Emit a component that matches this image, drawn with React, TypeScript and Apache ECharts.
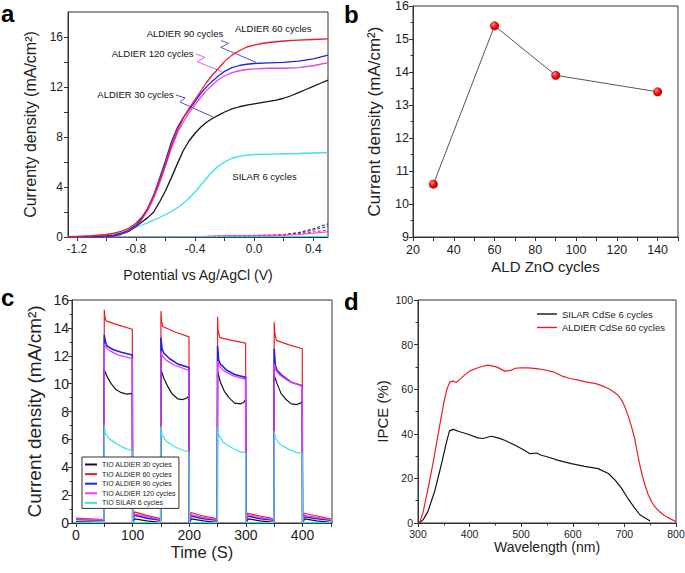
import React, { useEffect, useRef } from "react";
import * as echarts from "echarts";

const FONT = '"Liberation Sans", Arial, Helvetica, sans-serif';

// ---------- Panel a : J-V curves ----------
const aXTicks = [-1.2, -0.8, -0.4, 0, 0.4];
const aXMinor = [-1.0, -0.6, -0.2, 0.2];
const aYTicks = [0, 4, 8, 12, 16];
const aYMinor = [2, 6, 10, 14];

const aRed60 = [[-1.26,0.02],[-1.2,0.05],[-1.1,0.1],[-1.0,0.2],[-0.95,0.3],[-0.9,0.45],[-0.85,0.7],[-0.8,1.1],[-0.76,1.6],[-0.72,2.3],[-0.68,3.3],[-0.64,4.5],[-0.6,5.8],[-0.56,7.3],[-0.52,8.5],[-0.48,9.5],[-0.44,10.3],[-0.4,11.0],[-0.36,11.7],[-0.32,12.4],[-0.28,13.0],[-0.24,13.5],[-0.2,14.05],[-0.15,14.55],[-0.1,14.9],[-0.05,15.2],[0,15.35],[0.05,15.48],[0.1,15.56],[0.2,15.68],[0.3,15.75],[0.4,15.8],[0.5,15.85]];
const aBlue90 = [[-1.26,0],[-1.2,0.01],[-1.1,0.03],[-1.0,0.08],[-0.95,0.15],[-0.9,0.3],[-0.85,0.55],[-0.8,0.95],[-0.76,1.5],[-0.72,2.3],[-0.68,3.35],[-0.64,4.7],[-0.6,6.1],[-0.56,7.6],[-0.52,8.75],[-0.48,9.55],[-0.44,10.2],[-0.4,10.85],[-0.36,11.5],[-0.32,12.05],[-0.28,12.5],[-0.24,12.9],[-0.2,13.25],[-0.15,13.55],[-0.1,13.72],[-0.05,13.82],[0,13.88],[0.1,13.93],[0.2,13.97],[0.3,14.07],[0.4,14.25],[0.5,14.55]];
const aMag120 = [[-1.26,0],[-1.2,0.01],[-1.1,0.03],[-1.0,0.07],[-0.95,0.13],[-0.9,0.28],[-0.85,0.5],[-0.8,0.9],[-0.76,1.4],[-0.72,2.1],[-0.68,3.1],[-0.64,4.3],[-0.6,5.7],[-0.56,7.1],[-0.52,8.3],[-0.48,9.2],[-0.44,9.95],[-0.4,10.6],[-0.36,11.2],[-0.32,11.75],[-0.28,12.2],[-0.24,12.6],[-0.2,12.9],[-0.15,13.15],[-0.1,13.3],[-0.05,13.4],[0,13.45],[0.1,13.5],[0.2,13.5],[0.3,13.55],[0.4,13.7],[0.5,13.95]];
const aBlack30 = [[-1.26,0],[-1.2,0.01],[-1.1,0.02],[-1.0,0.05],[-0.95,0.1],[-0.9,0.22],[-0.85,0.45],[-0.8,0.85],[-0.76,1.2],[-0.72,1.55],[-0.68,2.0],[-0.64,2.8],[-0.6,3.7],[-0.56,4.75],[-0.52,5.85],[-0.48,6.9],[-0.44,7.7],[-0.4,8.3],[-0.36,8.8],[-0.32,9.2],[-0.28,9.5],[-0.24,9.75],[-0.2,10.0],[-0.15,10.25],[-0.1,10.42],[-0.05,10.55],[0,10.65],[0.05,10.75],[0.1,10.85],[0.15,10.95],[0.2,11.1],[0.25,11.3],[0.3,11.55],[0.35,11.8],[0.4,12.05],[0.45,12.3],[0.5,12.55]];
const aCyanSilar = [[-1.26,0],[-1.2,0.01],[-1.1,0.03],[-1.0,0.08],[-0.95,0.15],[-0.9,0.3],[-0.85,0.52],[-0.8,0.78],[-0.75,1.0],[-0.7,1.25],[-0.65,1.5],[-0.6,1.8],[-0.55,2.1],[-0.5,2.5],[-0.45,3.0],[-0.4,3.6],[-0.35,4.3],[-0.3,5.0],[-0.25,5.6],[-0.2,6.0],[-0.15,6.3],[-0.1,6.45],[-0.05,6.55],[0,6.6],[0.1,6.63],[0.2,6.66],[0.3,6.68],[0.4,6.72],[0.5,6.75]];
// dark currents
const aDarkBlack = [[-1.26,0],[-0.4,0],[-0.1,0.03],[0.1,0.1],[0.2,0.2],[0.3,0.35],[0.4,0.65],[0.5,1.05]];
const aDarkBlue = [[-1.26,0],[-0.3,0],[0,0.03],[0.2,0.15],[0.3,0.3],[0.4,0.55],[0.5,0.85]];
const aDarkRed = [[-1.26,0],[-0.4,0.02],[-0.2,0.1],[0,0.13],[0.2,0.18],[0.3,0.25],[0.4,0.4],[0.5,0.55]];
const aDarkMag = [[-1.26,0],[-0.4,0.02],[-0.2,0.1],[0,0.12],[0.2,0.15],[0.3,0.2],[0.4,0.3],[0.5,0.42]];
const aDarkCyan = [[-1.26,0],[0,0.02],[0.5,0.05]];

// ---------- Panel b ----------
const bCycles = [30, 60, 90, 140];
const bCurrent = [10.6, 15.4, 13.9, 13.4];
const bXTicks = [20, 40, 60, 80, 100, 120, 140];
const bXMinor = [30, 50, 70, 90, 110, 130, 150];

// ---------- Panel c : chopped light ----------
const cXTicks = [0, 100, 200, 300, 400];
const cXMinor = [50, 150, 250, 350, 450];
const cNames = ["TIO ALDIER 30 cycles", "TIO ALDIER 60 cycles", "TIO ALDIER 90 cycles", "TIO ALDIER 120 cycles", "TIO SILAR 6 cycles"];
const cBlack30 = [[0,0.1],[49.5,0.05],[50,11.0],[55,10.5],[62,10.0],[70,9.6],[80,9.35],[90,9.25],[99.5,9.3],[100,0.0],[104,0.3],[125,0.15],[149.5,0.05],[150,11.0],[155,10.4],[162,9.8],[170,9.25],[180,8.9],[188,8.85],[195,8.95],[199.5,9.1],[200,0.0],[204,0.3],[225,0.15],[249.5,0.05],[250,10.9],[255,10.1],[262,9.45],[270,9.0],[280,8.6],[290,8.55],[296,8.65],[299.5,8.85],[300,0],[304,0.3],[325,0.15],[349.5,0.05],[350,10.6],[355,10.0],[362,9.3],[370,8.9],[380,8.55],[390,8.5],[396,8.6],[399.5,8.7],[400,0],[404,0.3],[425,0.15],[450,0.05]];
const cRed60 = [[0,0.35],[25,0.3],[49.5,0.25],[50,15.3],[51,14.8],[53,14.5],[75,14.2],[99.5,13.9],[100,0.1],[103,0.8],[125,0.55],[149.5,0.3],[150,15.2],[151,14.5],[153,14.1],[175,13.7],[199.5,13.35],[200,0.1],[203,0.75],[225,0.5],[249.5,0.3],[250,14.8],[251,13.8],[254,13.3],[275,13.1],[299.5,12.9],[300,0.1],[303,0.7],[325,0.5],[349.5,0.3],[350,14.4],[351,13.6],[354,13.1],[375,12.8],[399.5,12.5],[400,0.1],[403,0.7],[425,0.5],[450,0.3]];
const cBlue90 = [[0,0.25],[25,0.22],[49.5,0.2],[50,13.5],[52,13.0],[55,12.7],[65,12.45],[80,12.25],[99.5,12.05],[100,0.05],[103,0.55],[125,0.35],[149.5,0.2],[150,13.3],[152,12.5],[155,12.2],[165,11.8],[180,11.4],[199.5,11.15],[200,0.05],[203,0.5],[225,0.3],[249.5,0.2],[250,12.7],[252,11.7],[255,11.4],[265,11.0],[280,10.65],[299.5,10.45],[300,0.05],[303,0.5],[325,0.3],[349.5,0.2],[350,12.5],[352,11.3],[355,10.95],[365,10.55],[380,10.1],[399.5,9.85],[400,0.05],[403,0.45],[425,0.3],[450,0.2]];
const cMag120 = [[0,0.3],[25,0.25],[49.5,0.22],[50,12.85],[53,12.6],[60,12.35],[75,12.05],[99.5,11.8],[100,0.05],[103,0.65],[125,0.45],[149.5,0.25],[150,12.3],[153,11.95],[160,11.65],[175,11.3],[199.5,10.95],[200,0.05],[203,0.6],[225,0.4],[249.5,0.25],[250,11.6],[253,11.25],[260,10.95],[275,10.6],[299.5,10.3],[300,0.05],[303,0.6],[325,0.4],[349.5,0.25],[350,11.4],[353,10.95],[360,10.6],[375,10.2],[399.5,9.8],[400,0.05],[403,0.55],[425,0.4],[450,0.25]];
const cCyan6 = [[0,0.05],[49.5,0.03],[50,7.0],[52,6.4],[60,6.0],[75,5.6],[90,5.3],[99.5,5.2],[100,0.02],[149.5,0.03],[150,6.95],[152,6.3],[160,5.85],[175,5.45],[190,5.2],[199.5,5.1],[200,0.02],[249.5,0.03],[250,6.9],[252,6.3],[260,5.8],[275,5.4],[290,5.1],[299.5,5.05],[300,0.02],[349.5,0.03],[350,6.6],[352,6.1],[360,5.65],[375,5.3],[390,5.05],[399.5,5.0],[400,0.02],[450,0.03]];

// ---------- Panel d : IPCE ----------
const dNames = ["SILAR CdSe 6 cycles", "ALDIER CdSe 60 cycles"];
const dSilar = [[303,0],[310,1.5],[319,5],[332,14],[345,26],[355,36],[361,41.3],[368,42],[381,40.9],[397,39.8],[416,38.2],[426,37.9],[442,38.9],[455,38.2],[468,37.1],[488,34.9],[500,33.4],[517,31.1],[530,31.4],[539,30.4],[552,29.6],[572,28.1],[597,26.6],[623,25.4],[649,24.4],[669,22.2],[682,19.2],[695,15.4],[707,10.9],[720,6.7],[730,3.7],[740,2.2],[750,0.9]];
const dAldier = [[303,0],[310,5],[320,16],[330,28],[340,41],[350,54],[356,60],[362,63.3],[368,63.6],[374,63.0],[380,64.2],[390,66.3],[400,68.1],[412,69.3],[425,70.3],[436,70.8],[452,70.0],[468,68.1],[480,68.4],[488,69.4],[500,69.6],[514,69.6],[530,69.2],[546,68.6],[562,67.8],[578,66.0],[595,64.8],[611,64.1],[627,63.2],[643,62.6],[656,61.6],[669,60.3],[680,58.6],[688,57.3],[695,55.0],[701,52],[708,47.6],[714,43],[720,37.9],[725,31.5],[730,25.9],[735,21],[740,16.9],[746,12.8],[753,9.4],[760,7],[769,4.9],[777,3.5],[785,2.4],[792,1.5],[800,0.7]];

const BLACK = "#151515";
const RED = "#ec1c24";
const BLUE = "#2424e0";
const MAG = "#ee3cee";
const CYAN = "#3ae0e6";

function axisBase(fontSize: number, margin: number) {
  return {
    type: "value",
    splitLine: { show: false },
    axisLine: { show: true, onZero: false, lineStyle: { color: "#333", width: 1 } },
    axisTick: { show: true, length: 4, lineStyle: { color: "#333", width: 1 } },
    axisLabel: { fontSize, margin, color: "#222", fontFamily: FONT },
    nameLocation: "middle",
  };
}

function nameStyle(fontSize: number) {
  return { fontSize, color: "#222", fontFamily: FONT };
}

function lineSeries(name: string, data: number[][], color: string, idx: number, width = 1.3, dashed = false) {
  return {
    type: "line",
    name,
    data,
    xAxisIndex: idx,
    yAxisIndex: idx,
    showSymbol: false,
    symbol: "none",
    silent: true,
    lineStyle: { color, width, type: dashed ? [3, 2] : "solid" },
    itemStyle: { color },
  };
}

export default function App() {
  const ref = useRef<HTMLDivElement>(null);
  useEffect(() => {
    if (!ref.current) return;
    const chart = echarts.init(ref.current, null, { renderer: "svg" });
    const fmt1 = (v: number) => v.toFixed(1);
    const option: any = {
      animation: false,
      backgroundColor: "#fff",
      textStyle: { fontFamily: FONT },
      grid: [
        { left: 68, top: 12, width: 260, height: 225, show: true, borderColor: "#333", borderWidth: 1, outerBoundsMode: "none" },
        { left: 413, top: 6, width: 265, height: 231, show: true, borderColor: "#333", borderWidth: 1, outerBoundsMode: "none" },
        { left: 72, top: 300, width: 260, height: 223, show: true, borderColor: "#333", borderWidth: 1, outerBoundsMode: "none" },
        { left: 418, top: 300, width: 258, height: 223, show: true, borderColor: "#333", borderWidth: 1, outerBoundsMode: "none" },
      ],
      xAxis: [
        {
          ...axisBase(12, 6), gridIndex: 0, min: -1.26, max: 0.5,
          axisTick: { show: true, length: 4, lineStyle: { color: "#333" }, customValues: [...aXTicks, ...aXMinor] },
          axisLabel: { fontSize: 12, margin: 6, color: "#222", fontFamily: FONT, customValues: aXTicks, formatter: fmt1 },
          name: "Potential vs Ag/AgCl (V)", nameGap: 31, nameTextStyle: nameStyle(14),
        },
        {
          ...axisBase(12.5, 6.5), gridIndex: 1, min: 20, max: 150,
          axisTick: { show: true, length: 4, lineStyle: { color: "#333" }, customValues: [...bXTicks, ...bXMinor] },
          axisLabel: { fontSize: 12.5, margin: 6.5, color: "#222", fontFamily: FONT, customValues: bXTicks },
          name: "ALD ZnO cycles", nameGap: 22, nameTextStyle: nameStyle(15),
        },
        {
          ...axisBase(14, 5), gridIndex: 2, min: -7, max: 452,
          axisTick: { show: true, length: 4, lineStyle: { color: "#333" }, customValues: [...cXTicks, ...cXMinor] },
          axisLabel: { fontSize: 14, margin: 5, color: "#222", fontFamily: FONT, customValues: cXTicks },
          name: "Time (S)", nameGap: 20, nameTextStyle: nameStyle(16.5),
        },
        {
          ...axisBase(10.5, 5), gridIndex: 3, min: 300, max: 800, interval: 100,
          minorTick: { show: true, splitNumber: 2, length: 2.5, lineStyle: { color: "#333" } },
          name: "Wavelength (nm)", nameGap: 17, nameTextStyle: nameStyle(14),
        },
      ],
      yAxis: [
        {
          ...axisBase(12, 5), gridIndex: 0, min: 0, max: 18,
          axisTick: { show: true, length: 4, lineStyle: { color: "#333" }, customValues: [...aYTicks, ...aYMinor] },
          axisLabel: { fontSize: 12, margin: 5, color: "#222", fontFamily: FONT, customValues: aYTicks },
          name: "Currenty density (mA/cm²)", nameGap: 30, nameTextStyle: nameStyle(16),
        },
        {
          ...axisBase(12.5, 4), gridIndex: 1, min: 9, max: 16, interval: 1,
          minorTick: { show: true, splitNumber: 2, length: 2.5, lineStyle: { color: "#333" } },
          name: "Current density (mA/cm²)", nameGap: 30, nameTextStyle: nameStyle(17),
        },
        {
          ...axisBase(14, 3), gridIndex: 2, min: 0, max: 16, interval: 2,
          minorTick: { show: true, splitNumber: 2, length: 2.5, lineStyle: { color: "#333" } },
          name: "Current density (mA/cm²)", nameGap: 28, nameTextStyle: nameStyle(19),
        },
        {
          ...axisBase(10.5, 5), gridIndex: 3, min: 0, max: 100, interval: 20,
          minorTick: { show: true, splitNumber: 2, length: 2.5, lineStyle: { color: "#333" } },
          name: "IPCE (%)", nameGap: 28, nameTextStyle: nameStyle(15),
        },
      ],
      legend: [
        {
          data: cNames, orient: "vertical", left: 82, top: 457, itemWidth: 12, itemHeight: 2, itemGap: 2.6,
          icon: "rect", padding: [4, 3, 2, 3], borderColor: "#333", borderWidth: 1, backgroundColor: "#fff",
          textStyle: { fontSize: 7, color: "#222", fontFamily: FONT }, selectedMode: false,
        },
        {
          data: dNames, orient: "vertical", left: 537, top: 309, itemWidth: 20, itemHeight: 1.4, itemGap: 3.5,
          icon: "rect", padding: 0, textStyle: { fontSize: 9.5, color: "#222", fontFamily: FONT }, selectedMode: false,
        },
      ],
      series: [
        lineSeries("a dark black", aDarkBlack, BLACK, 0, 1, true),
        lineSeries("a dark blue", aDarkBlue, BLUE, 0, 1, true),
        lineSeries("a dark red", aDarkRed, RED, 0, 1, true),
        lineSeries("a dark magenta", aDarkMag, MAG, 0, 1.2),
        lineSeries("a dark cyan", aDarkCyan, CYAN, 0, 1.2),
        lineSeries("a SILAR 6", aCyanSilar, CYAN, 0),
        lineSeries("a ALDIER 30", aBlack30, BLACK, 0),
        lineSeries("a ALDIER 120", aMag120, MAG, 0),
        lineSeries("a ALDIER 90", aBlue90, BLUE, 0),
        lineSeries("a ALDIER 60", aRed60, RED, 0),
        {
          type: "line", name: "b", xAxisIndex: 1, yAxisIndex: 1, silent: true,
          data: bCycles.map((c, i) => [c, bCurrent[i]]),
          symbol: "circle", symbolSize: 9, showSymbol: true,
          lineStyle: { color: "#555", width: 1 },
          itemStyle: {
            color: new echarts.graphic.RadialGradient(0.38, 0.35, 0.65, [
              { offset: 0, color: "#ff9a9a" },
              { offset: 0.5, color: "#f01010" },
              { offset: 1, color: "#c00000" },
            ]),
          },
        },
        lineSeries(cNames[0], cBlack30, BLACK, 2, 1.2),
        lineSeries(cNames[1], cRed60, RED, 2, 1.2),
        lineSeries(cNames[2], cBlue90, BLUE, 2, 1.6),
        lineSeries(cNames[3], cMag120, MAG, 2, 1.3),
        lineSeries(cNames[4], cCyan6, CYAN, 2, 1.2),
        lineSeries(dNames[0], dSilar, BLACK, 3, 1.2),
        lineSeries(dNames[1], dAldier, RED, 3, 1.2),
      ],
      graphic: [
        { type: "text", x: 1, y: 13.6, style: { text: "a", font: `bold 24px ${FONT}`, fill: "#000", verticalAlign: "middle" } },
        { type: "text", x: 344, y: 14.6, style: { text: "b", font: `bold 24px ${FONT}`, fill: "#000", verticalAlign: "middle" } },
        { type: "text", x: 1, y: 297, style: { text: "c", font: `bold 24px ${FONT}`, fill: "#000", verticalAlign: "middle" } },
        { type: "text", x: 344, y: 301.6, style: { text: "d", font: `bold 24px ${FONT}`, fill: "#000", verticalAlign: "middle" } },
        { type: "text", x: 235, y: 28.3, style: { text: "ALDIER 60 cycles", font: `9.5px ${FONT}`, fill: "#111", verticalAlign: "middle" } },
        { type: "text", x: 146.7, y: 33.3, style: { text: "ALDIER 90 cycles", font: `9.5px ${FONT}`, fill: "#111", verticalAlign: "middle" } },
        { type: "text", x: 111.7, y: 53.3, style: { text: "ALDIER 120 cycles", font: `9.5px ${FONT}`, fill: "#111", verticalAlign: "middle" } },
        { type: "text", x: 97.3, y: 94, style: { text: "ALDIER 30 cycles", font: `9.5px ${FONT}`, fill: "#111", verticalAlign: "middle" } },
        { type: "text", x: 232.3, y: 176, style: { text: "SILAR 6 cycles", font: `9.5px ${FONT}`, fill: "#111", verticalAlign: "middle" } },
        { type: "polyline", shape: { points: [[221, 40.5], [228.5, 43.3], [220.7, 47.3], [256, 62.3]] }, style: { stroke: "#5a5ad0", lineWidth: 1, fill: null } },
        { type: "polyline", shape: { points: [[196, 54], [205, 57.3], [197.3, 61.7], [222, 71.7]] }, style: { stroke: "#e060e0", lineWidth: 1, fill: null } },
        { type: "polyline", shape: { points: [[176, 95], [185, 98], [180, 102], [213, 117]] }, style: { stroke: "#5050c0", lineWidth: 1, fill: null } },
      ],
    };
    chart.setOption(option);
    return () => chart.dispose();
  }, []);
  return (
    <div
      ref={ref}
      style={{ position: "fixed", left: 0, top: 0, width: 685, height: 573, background: "#fff" }}
    />
  );
}
